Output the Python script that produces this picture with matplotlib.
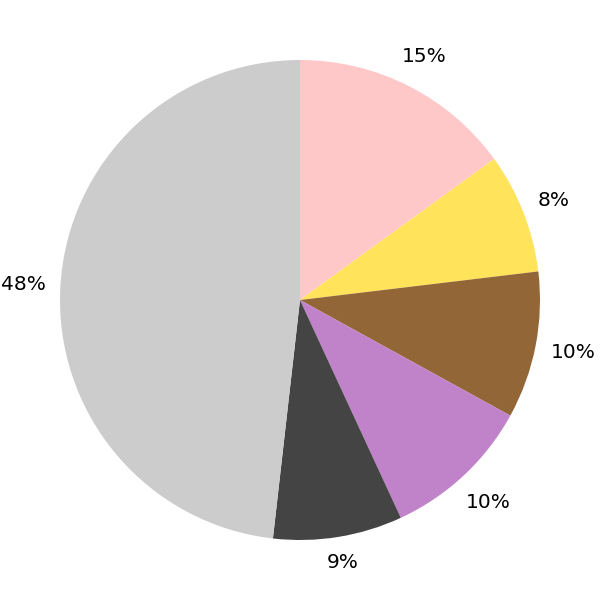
import numpy as np
import matplotlib
matplotlib.use("Agg")
import matplotlib.pyplot as plt

# slice values (percent), read clockwise from 12 o'clock
values = [15.0, 8.1, 9.9, 10.1, 8.7, 48.2]
colors = ['#FFC8C8', '#FFE35A', '#936637', '#C082C9', '#444444', '#CCCCCC']

fig = plt.figure(figsize=(6, 6), dpi=100)
ax = fig.add_axes([0, 0, 1, 1])

wedges, texts, autotexts = ax.pie(values, colors=colors, startangle=90,
                                  counterclock=False, autopct='%1.0f%%',
                                  pctdistance=1.06,
                                  textprops={'fontsize': 14.5})
ax.set_aspect('equal')
ax.set_xlim(-1.25, 1.25)
ax.set_ylim(-1.25, 1.25)
ax.axis('off')

# push each label out so its box sits just outside the pie
fig.canvas.draw()
renderer = fig.canvas.get_renderer()
px_per_unit = 600 / 2.5
for w, t in zip(wedges, autotexts):
    ang = np.deg2rad((w.theta1 + w.theta2) / 2)
    bb = t.get_window_extent(renderer)
    half_w = bb.width / 2 / px_per_unit
    half_h = bb.height / 2 / px_per_unit
    dx, dy = np.cos(ang), np.sin(ang)
    r = 1.06 + abs(dx) * half_w + abs(dy) * half_h
    t.set_position((r * dx, r * dy))

fig.savefig('out.png', dpi=100)
